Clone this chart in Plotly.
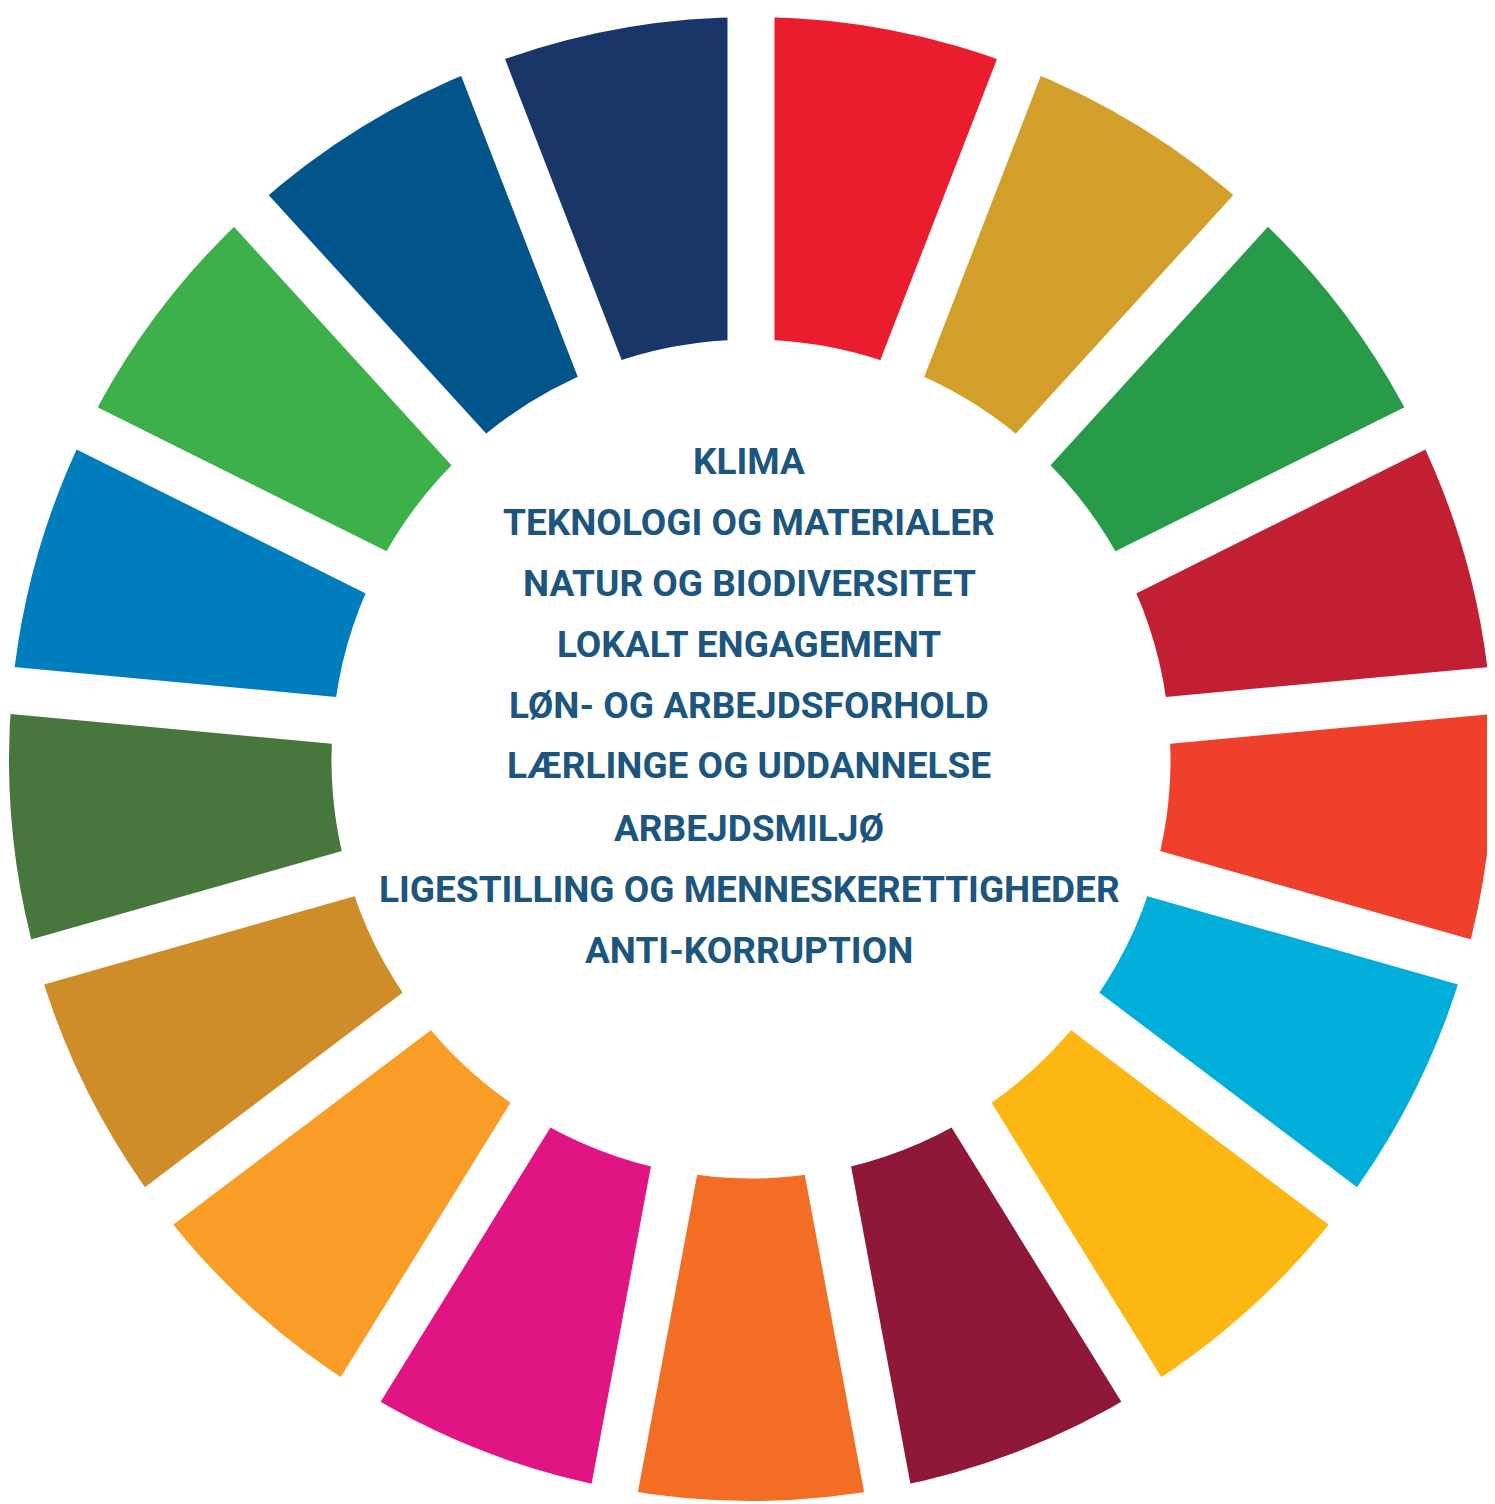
import math
import plotly.graph_objects as go

# --- data ---
goals = [f"Verdensmål {i}" for i in range(1, 18)]
weights = [1] * 17
colors = ["#EB1C2D", "#D19F2A", "#279B48", "#C31F33", "#EF402B", "#00AED9",
          "#FDB713", "#8F1838", "#F36D25", "#E11484", "#F99D26", "#CF8D2A",
          "#48773E", "#007DBC", "#3EB049", "#02558B", "#183668"]
center_lines = ["KLIMA", "TEKNOLOGI OG MATERIALER", "NATUR OG BIODIVERSITET",
                "LOKALT ENGAGEMENT", "LØN- OG ARBEJDSFORHOLD", "LÆRLINGE OG UDDANNELSE",
                "ARBEJDSMILJØ", "LIGESTILLING OG MENNESKERETTIGHEDER", "ANTI-KORRUPTION"]

# --- layout geometry (pixels, relative to figure; page adds 8px body margin) ---
W, H = 1495, 1504
off = 8
cx, cy = 751 - off, 759 - off
R_out, R_in = 742, 419.5
gap = 47
text_color = "#1C557D"

fig = go.Figure(go.Pie(
    labels=goals, values=weights, sort=False, direction="clockwise", rotation=0,
    hole=R_in / R_out,
    marker=dict(colors=colors, line=dict(width=0)),
    textinfo="none", hoverinfo="label", showlegend=False,
    domain=dict(x=[max(0, (cx - R_out) / W), (cx + R_out) / W],
                y=[(H - cy - R_out) / H, (H - cy + R_out) / H]),
))

# white parallel-sided gaps at each slice boundary
total = sum(weights)
acc = 0
shapes = []
for w in weights:
    th = math.radians(acc / total * 360)
    r0, r1 = R_in - 30, R_out + 30
    shapes.append(dict(
        type="line", xref="paper", yref="paper", layer="above",
        x0=(cx + r0 * math.sin(th)) / W, y0=(H - cy + r0 * math.cos(th)) / H,
        x1=(cx + r1 * math.sin(th)) / W, y1=(H - cy + r1 * math.cos(th)) / H,
        line=dict(color="white", width=gap)))
    acc += w

annotations = []
line_y = [461, 522, 583, 644, 705, 766, 828, 889, 950]
for txt, yy in zip(center_lines, line_y):
    annotations.append(dict(
        text=txt, x=(749 - off) / W, y=(H - (yy - off)) / H, xref="paper", yref="paper",
        xanchor="center", yanchor="middle", showarrow=False,
        font=dict(family="Roboto", size=37, color=text_color, weight="bold")))

fig.update_layout(width=W, height=H, margin=dict(l=0, r=0, t=0, b=0),
                  paper_bgcolor="white", plot_bgcolor="white",
                  shapes=shapes, annotations=annotations)
fig.write_html("out.html")
